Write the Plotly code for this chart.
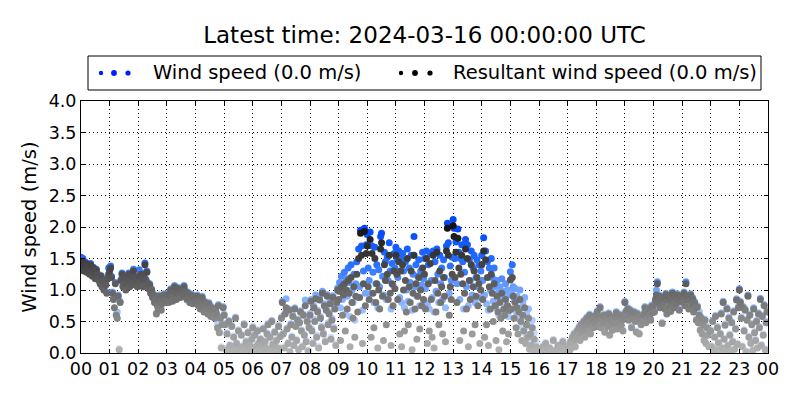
import pandas as pd
import plotly.graph_objects as go

# ---- data: 2-minute samples, 2024-03-15 00:00 .. 23:58 UTC (one row per hour) ----
wind_speed_by_hour = [
    [1.52,1.48,1.50,1.32,1.40,1.44,1.30,1.37,1.35,1.27, 1.42,1.31,1.24,1.36,1.30,1.20,1.33,1.27,1.21,1.17, 1.12,1.23,1.07,1.16,1.02,1.13,1.10,0.97,1.20,1.35],
    [1.36,1.38,1.22,0.97,0.87,0.88,1.12,0.62,0.65,0.92, 0.07,0.82,1.17,1.27,1.07,1.22,1.12,1.02,1.20,1.14, 1.27,1.07,1.17,1.10,1.24,1.33,1.12,1.22,1.17,1.07],
    [1.17,1.32,1.12,1.27,1.20,1.07,1.22,1.43,1.17,1.30, 1.12,1.04,1.10,0.97,1.02,0.90,0.94,0.82,0.87,0.64, 0.77,0.72,0.92,0.84,0.70,0.80,0.87,0.94,0.82,0.90],
    [0.87,0.94,0.82,0.97,1.02,0.90,0.84,1.00,1.07,0.92, 0.87,0.97,1.04,0.94,0.90,1.02,0.98,0.92,1.07,1.00, 0.94,0.87,0.97,0.90,0.82,0.94,0.87,0.80,0.92,0.84],
    [0.87,0.82,0.92,0.77,0.84,0.72,0.80,0.90,0.74,0.67, 0.82,0.77,0.70,0.64,0.80,0.72,0.60,0.74,0.67,0.62, 0.57,0.70,0.64,0.48,0.77,0.34,0.57,0.10,0.47,0.74],
    [0.62,0.47,0.07,0.32,0.04,0.52,0.14,0.03,0.44,0.10, 0.27,0.05,0.57,0.17,0.04,0.37,0.08,0.03,0.30,0.12, 0.06,0.47,0.04,0.20,0.10,0.34,0.03,0.14,0.07,0.24],
    [0.42,0.04,0.30,0.12,0.03,0.37,0.17,0.07,0.24,0.03, 0.14,0.40,0.06,0.20,0.10,0.32,0.47,0.08,0.27,0.04, 0.52,0.16,0.05,0.35,0.12,0.22,0.03,0.44,0.09,0.28],
    [0.57,0.82,0.32,0.10,0.64,0.86,0.40,0.17,0.70,0.04, 0.47,0.27,0.60,0.14,0.72,0.44,0.22,0.54,0.07,0.50, 0.67,0.37,0.12,0.62,0.30,0.84,0.20,0.52,0.05,0.42],
    [0.63,0.85,0.38,0.18,0.75,0.53,0.92,0.28,0.68,0.11, 0.87,0.58,0.43,0.98,0.33,0.78,0.21,0.71,0.93,0.48, 0.65,0.81,0.25,0.55,0.91,0.41,0.73,0.15,0.83,1.03],
    [0.98,1.12,0.72,1.22,0.85,1.08,1.28,0.62,1.18,0.90, 1.35,1.12,0.58,1.40,1.00,0.80,1.25,0.52,1.10,1.45, 0.88,1.65,1.05,1.95,1.70,0.68,1.30,1.98,0.95,1.72],
    [1.88,1.35,1.15,1.92,0.95,1.70,1.28,0.80,1.68,1.10, 1.40,0.72,1.32,1.05,1.85,1.90,1.22,0.92,1.60,1.45, 0.85,1.52,1.15,1.75,1.30,0.70,1.42,1.08,1.58,1.35],
    [1.68,1.50,1.20,1.62,0.88,1.52,0.80,1.58,1.30,0.72, 1.45,1.00,1.65,0.82,1.35,1.12,1.55,0.68,1.25,1.85, 1.05,1.40,0.90,1.22,1.48,0.75,1.30,1.08,1.60,1.18],
    [1.50,1.02,1.62,0.78,1.40,0.70,1.58,1.15,0.88,1.62, 0.65,1.45,0.98,1.65,1.25,0.80,1.55,1.10,1.35,0.85, 1.48,1.20,0.72,1.70,2.06,1.75,0.95,1.38,1.15,1.52],
    [2.12,1.98,1.50,1.76,1.10,1.97,1.60,0.85,1.50,1.72, 1.45,0.70,1.28,1.80,1.05,1.72,0.75,1.48,1.15,1.62, 0.92,1.35,1.55,0.80,1.20,1.48,1.05,1.40,0.88,1.30],
    [1.55,1.15,1.83,0.92,1.62,0.78,1.45,0.68,1.35,1.00, 1.50,1.20,0.82,1.35,1.05,0.72,1.15,0.95,0.60,1.05, 0.85,1.18,0.65,0.98,0.88,1.10,0.75,1.00,0.58,0.92],
    [1.29,0.95,1.40,1.05,0.82,1.02,0.65,0.90,0.55,0.85, 1.00,0.72,0.42,0.80,0.58,0.88,0.30,0.62,0.42,0.70, 0.15,0.45,0.22,0.52,0.10,0.32,0.06,0.18,0.04,0.10],
    [0.04,0.02,0.07,0.03,0.12,0.01,0.05,0.17,0.03,0.02, 0.06,0.10,0.03,0.01,0.04,0.22,0.02,0.05,0.03,0.07, 0.14,0.02,0.04,0.10,0.01,0.20,0.06,0.03,0.12,0.05],
    [0.06,0.14,0.04,0.20,0.10,0.27,0.17,0.32,0.12,0.24, 0.37,0.30,0.42,0.22,0.47,0.34,0.40,0.52,0.27,0.44, 0.57,0.37,0.50,0.62,0.32,0.47,0.54,0.42,0.60,0.49],
    [0.52,0.67,0.44,0.60,0.74,0.42,0.56,0.50,0.62,0.35, 0.57,0.52,0.44,0.64,0.30,0.47,0.54,0.38,0.52,0.60, 0.48,0.66,0.40,0.57,0.50,0.62,0.46,0.54,0.37,0.58],
    [0.82,0.67,0.60,0.72,0.54,0.70,0.62,0.42,0.67,0.57, 0.66,0.52,0.35,0.64,0.60,0.32,0.54,0.47,0.60,0.52, 0.64,0.74,0.50,0.68,0.57,0.72,0.62,0.54,0.76,0.66],
    [0.77,0.67,0.86,1.00,1.13,0.82,0.92,0.74,0.87,0.49, 0.80,0.90,0.72,0.95,0.64,0.86,0.92,0.77,0.68,0.88, 0.97,0.82,0.74,0.90,0.80,0.94,0.87,0.70,0.84,0.92],
    [0.90,0.82,0.97,0.77,1.13,0.87,0.92,0.72,0.86,0.94, 0.80,0.88,0.67,0.82,0.74,0.54,0.75,0.50,0.66,0.38, 0.57,0.32,0.47,0.22,0.54,0.17,0.42,0.30,0.12,0.37],
    [0.37,0.12,0.52,0.04,0.27,0.60,0.07,0.42,0.18,0.03, 0.32,0.64,0.10,0.82,0.24,0.46,0.06,0.72,0.14,0.57, 0.30,0.05,0.50,0.20,0.67,0.08,0.40,0.86,0.16,0.74],
    [1.02,0.82,0.57,0.12,0.74,0.37,0.70,0.04,0.54,0.92, 0.27,0.62,0.17,0.47,0.06,0.72,0.34,0.22,0.52,0.10, 0.64,0.42,0.87,0.14,0.60,0.30,0.77,0.07,0.50,0.67],
]

resultant_speed_by_hour = [
    [1.40,1.35,1.45,1.30,1.38,1.42,1.28,1.36,1.33,1.25, 1.40,1.30,1.22,1.35,1.28,1.18,1.32,1.25,1.20,1.15, 1.10,1.22,1.05,1.15,1.00,1.12,1.08,0.95,1.18,1.25],
    [1.30,1.35,1.20,0.95,0.85,0.72,1.10,0.60,0.55,0.90, 0.05,0.80,1.15,1.25,1.05,1.20,1.10,1.00,1.18,1.12, 1.25,1.05,1.15,1.08,1.22,1.30,1.10,1.20,1.15,1.05],
    [1.15,1.22,1.10,1.25,1.18,1.05,1.20,1.40,1.15,1.28, 1.10,1.02,1.08,0.95,1.00,0.88,0.92,0.80,0.85,0.62, 0.75,0.70,0.90,0.82,0.68,0.78,0.85,0.92,0.80,0.88],
    [0.85,0.92,0.80,0.95,1.00,0.88,0.82,0.98,1.05,0.90, 0.85,0.95,1.02,0.92,0.88,1.00,0.96,0.90,1.05,0.98, 0.92,0.85,0.95,0.88,0.80,0.92,0.85,0.78,0.90,0.82],
    [0.85,0.80,0.90,0.75,0.82,0.70,0.78,0.88,0.72,0.65, 0.80,0.75,0.68,0.62,0.78,0.70,0.58,0.72,0.65,0.60, 0.55,0.68,0.62,0.40,0.75,0.32,0.55,0.08,0.45,0.72],
    [0.60,0.45,0.05,0.30,0.02,0.50,0.12,0.01,0.42,0.08, 0.25,0.03,0.55,0.15,0.02,0.35,0.06,0.01,0.28,0.10, 0.04,0.45,0.02,0.18,0.08,0.32,0.01,0.12,0.05,0.22],
    [0.40,0.02,0.28,0.10,0.01,0.35,0.15,0.05,0.22,0.01, 0.12,0.38,0.04,0.18,0.08,0.30,0.45,0.06,0.25,0.02, 0.50,0.14,0.03,0.33,0.10,0.20,0.01,0.42,0.07,0.26],
    [0.55,0.80,0.30,0.08,0.62,0.72,0.38,0.15,0.68,0.02, 0.45,0.25,0.58,0.12,0.70,0.42,0.20,0.52,0.05,0.48, 0.65,0.35,0.10,0.60,0.28,0.75,0.18,0.50,0.03,0.40],
    [0.60,0.82,0.35,0.15,0.72,0.50,0.86,0.25,0.65,0.08, 0.84,0.55,0.40,0.95,0.30,0.75,0.18,0.68,0.90,0.45, 0.62,0.78,0.22,0.52,0.88,0.38,0.70,0.12,0.80,1.00],
    [0.85,0.98,0.20,1.05,0.60,0.92,1.10,0.35,1.00,0.70, 1.15,0.95,0.10,1.20,0.80,0.55,1.05,0.25,0.90,1.25, 0.65,1.50,0.88,1.90,1.55,0.15,1.10,1.93,0.75,1.58],
    [1.70,1.05,0.85,1.80,0.25,1.58,0.95,0.40,1.50,0.80, 1.10,0.08,1.00,0.70,1.65,1.75,0.90,0.20,1.40,1.15, 0.45,1.25,0.85,1.55,0.95,0.12,1.10,0.75,1.30,1.02],
    [1.55,1.25,0.85,1.45,0.30,1.30,0.10,1.40,1.00,0.35, 1.15,0.65,1.50,0.45,1.05,0.80,1.30,0.05,0.95,1.55, 0.70,1.10,0.22,0.90,1.20,0.38,1.00,0.75,1.35,0.85],
    [1.25,0.70,1.50,0.15,1.10,0.35,1.42,0.85,0.25,1.55, 0.08,1.15,0.65,1.60,0.95,0.45,1.30,0.80,1.05,0.30, 1.20,0.90,0.18,1.62,1.98,1.55,0.60,1.05,0.85,1.25],
    [2.02,1.85,1.20,1.60,0.80,1.82,1.35,0.20,1.25,1.55, 1.10,0.35,0.95,1.65,0.70,1.50,0.10,1.15,0.85,1.40, 0.30,1.05,1.30,0.45,0.90,1.20,0.75,1.10,0.15,1.00],
    [1.40,0.85,1.62,0.25,1.48,0.45,1.20,0.12,1.05,0.70, 1.25,0.95,0.50,1.10,0.75,0.20,0.90,0.65,0.05,0.80, 0.55,0.95,0.35,0.70,0.60,0.85,0.18,0.75,0.30,0.68],
    [1.16,0.70,1.20,0.90,0.55,0.80,0.40,0.72,0.30,0.65, 0.85,0.50,0.20,0.60,0.35,0.72,0.15,0.45,0.25,0.55, 0.06,0.30,0.12,0.40,0.04,0.22,0.02,0.10,0.01,0.05],
    [0.03,0.01,0.06,0.02,0.10,0.00,0.04,0.15,0.02,0.01, 0.05,0.08,0.02,0.00,0.03,0.20,0.01,0.04,0.02,0.06, 0.12,0.01,0.03,0.08,0.00,0.18,0.05,0.02,0.10,0.04],
    [0.05,0.12,0.03,0.18,0.08,0.25,0.15,0.30,0.10,0.22, 0.35,0.28,0.40,0.20,0.45,0.32,0.38,0.50,0.25,0.42, 0.55,0.35,0.48,0.60,0.30,0.45,0.52,0.40,0.58,0.47],
    [0.50,0.65,0.42,0.58,0.72,0.40,0.54,0.48,0.60,0.33, 0.55,0.50,0.42,0.62,0.28,0.45,0.52,0.36,0.50,0.58, 0.46,0.64,0.38,0.55,0.48,0.60,0.44,0.52,0.35,0.56],
    [0.80,0.65,0.58,0.70,0.52,0.68,0.60,0.40,0.65,0.55, 0.64,0.50,0.33,0.62,0.58,0.30,0.52,0.45,0.58,0.50, 0.62,0.72,0.48,0.66,0.55,0.70,0.60,0.52,0.74,0.64],
    [0.75,0.65,0.84,0.92,1.10,0.80,0.90,0.72,0.85,0.47, 0.78,0.88,0.70,0.93,0.62,0.84,0.90,0.75,0.66,0.86, 0.95,0.80,0.72,0.88,0.78,0.92,0.85,0.68,0.82,0.90],
    [0.88,0.80,0.95,0.75,1.10,0.85,0.90,0.70,0.84,0.92, 0.78,0.86,0.65,0.80,0.72,0.52,0.73,0.48,0.60,0.36, 0.55,0.30,0.45,0.20,0.52,0.15,0.40,0.28,0.10,0.35],
    [0.35,0.10,0.50,0.02,0.25,0.58,0.05,0.40,0.16,0.01, 0.30,0.62,0.08,0.80,0.22,0.44,0.04,0.70,0.12,0.55, 0.28,0.03,0.48,0.18,0.65,0.06,0.38,0.84,0.14,0.72],
    [1.00,0.80,0.55,0.10,0.72,0.35,0.68,0.02,0.52,0.90, 0.25,0.60,0.15,0.45,0.04,0.70,0.32,0.20,0.50,0.08, 0.62,0.40,0.85,0.12,0.58,0.28,0.75,0.05,0.48,0.65],
]

hour_labels = ["00","01","02","03","04","05","06","07","08","09","10","11",
               "12","13","14","15","16","17","18","19","20","21","22","23","00"]
title_text = "Latest time: 2024-03-16 00:00:00 UTC"
legend_labels = ["Wind speed (0.0 m/s)", "Resultant wind speed (0.0 m/s)"]

for i, (a, b) in enumerate(zip(wind_speed_by_hour, resultant_speed_by_hour)):
    assert len(a) == 30 and len(b) == 30, (i, len(a), len(b))

wind_speed = [v for row in wind_speed_by_hour for v in row]
resultant_speed = [v for row in resultant_speed_by_hour for v in row]

times = pd.date_range("2024-03-15 00:00", periods=len(wind_speed), freq="2min")
tick_times = pd.date_range("2024-03-15 00:00", periods=len(hour_labels), freq="1h")

FONT = "DejaVu Sans"

blue_scale = [[0.0, "rgb(226,236,255)"], [0.25, "rgb(178,206,255)"],
              [0.5, "rgb(112,162,255)"], [0.7, "rgb(40,112,255)"], [1.0, "rgb(0,70,255)"]]
gray_scale = [[0.0, "rgb(180,180,180)"], [0.5, "rgb(100,100,100)"], [1.0, "rgb(18,18,18)"]]

fig = go.Figure()
fig.add_trace(go.Scatter(
    x=times, y=wind_speed, mode="markers", name=legend_labels[0],
    marker=dict(size=7, color=wind_speed, colorscale=blue_scale, cmin=0, cmax=2.0,
                line=dict(width=0)),
    showlegend=False, hoverinfo="x+y"))
fig.add_trace(go.Scatter(
    x=times, y=resultant_speed, mode="markers", name=legend_labels[1],
    marker=dict(size=7, color=resultant_speed, colorscale=gray_scale, cmin=0, cmax=2.0,
                line=dict(width=0)),
    showlegend=False, hoverinfo="x+y"))

# plot area in pixels
L, R, T, B = 81, 768, 101, 353
W_, H_ = R - L, B - T
def px(x): return (x - L) / W_
def py(y): return (B - y) / H_

shapes = []
annotations = []
shapes.append(dict(type="rect", xref="paper", yref="paper",
                   x0=px(88), x1=px(761), y0=py(90), y1=py(56),
                   line=dict(color="black", width=1), fillcolor="white", layer="above"))
legend_dots = [
    ([101, 114, 128], "rgb(0,30,255)", 151, legend_labels[0]),
    ([401, 415, 430], "black", 451, legend_labels[1]),
]
sizes = [2.2, 2.9, 2.6]
for xs, col, tx, label in legend_dots:
    for xx, r in zip(xs, sizes):
        shapes.append(dict(type="circle", xref="paper", yref="paper",
                           xsizemode="pixel", ysizemode="pixel",
                           xanchor=px(xx), yanchor=py(73),
                           x0=-r, x1=r, y0=-r, y1=r,
                           fillcolor=col, line=dict(width=0), layer="above"))
    annotations.append(dict(xref="paper", yref="paper", x=px(tx), y=py(72),
                            text=label, showarrow=False, xanchor="left", yanchor="middle",
                            font=dict(family=FONT, size=19.5, color="black")))

fig.update_layout(
    width=800, height=400,
    margin=dict(l=L, r=800 - R, t=T, b=400 - B),
    paper_bgcolor="white", plot_bgcolor="white",
    font=dict(family=FONT, size=17, color="black"),
    title=dict(text=title_text, x=0.5, xref="paper", xanchor="center",
               y=1 - 35 / 400, yref="container", yanchor="middle",
               font=dict(family=FONT, size=23, color="black")),
    shapes=shapes, annotations=annotations,
    showlegend=False,
)
fig.update_xaxes(
    range=[tick_times[0], tick_times[-1]],
    tickvals=list(tick_times), ticktext=hour_labels,
    showline=True, linecolor="black", linewidth=1, mirror="ticks",
    ticks="inside", ticklen=4, tickcolor="black",
    showgrid=True, gridcolor="black", gridwidth=1, griddash="1px,3px",
    zeroline=False, tickfont=dict(family=FONT, size=17.5),
)
fig.update_yaxes(
    range=[0, 4], dtick=0.5, tick0=0, tickformat=".1f",
    showline=True, linecolor="black", linewidth=1, mirror="ticks",
    ticks="inside", ticklen=4, tickcolor="black",
    showgrid=True, gridcolor="black", gridwidth=1, griddash="1px,3px",
    zeroline=False, tickfont=dict(family=FONT, size=17.5),
    title=dict(text="Wind speed (m/s)", font=dict(family=FONT, size=19.5), standoff=6),
)

fig.write_html("out.html", config={"displayModeBar": False},
               post_script="document.body.style.margin='0';document.body.style.padding='0';")
